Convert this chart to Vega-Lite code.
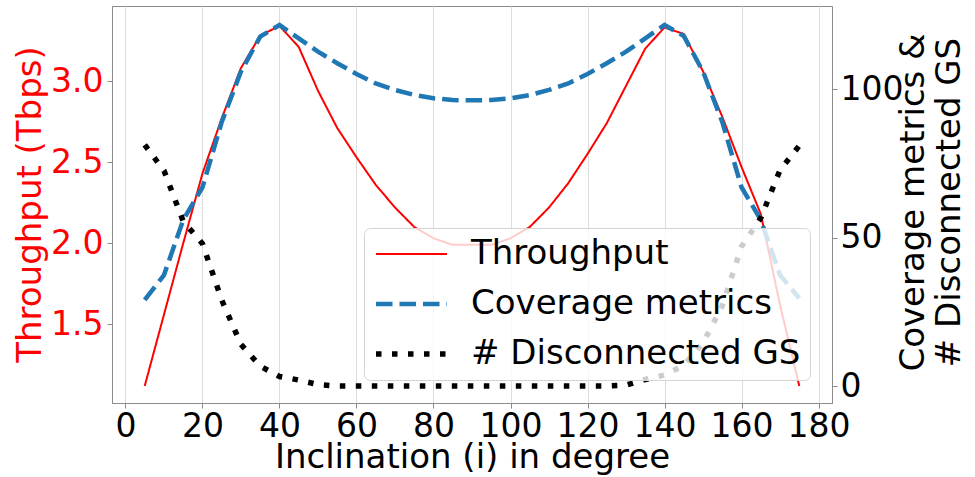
{
  "$schema": "https://vega.github.io/schema/vega-lite/v6.json",
  "autosize": {"type": "none"},
  "width": 720,
  "height": 397,
  "padding": {"left": 112, "top": 6, "right": 143, "bottom": 74},
  "background": "white",
  "data": {
    "values": [
      {"incl": 5, "Throughput": 1.12, "Coverage metrics": 29.0, "# Disconnected GS": 81.3},
      {"incl": 10, "Throughput": 1.56, "Coverage metrics": 37.4, "# Disconnected GS": 72.6},
      {"incl": 15, "Throughput": 2.0, "Coverage metrics": 56.0, "# Disconnected GS": 55.5},
      {"incl": 20, "Throughput": 2.43, "Coverage metrics": 67.0, "# Disconnected GS": 48.0},
      {"incl": 25, "Throughput": 2.77, "Coverage metrics": 89.0, "# Disconnected GS": 29.0},
      {"incl": 30, "Throughput": 3.08, "Coverage metrics": 106.0, "# Disconnected GS": 14.0},
      {"incl": 35, "Throughput": 3.28, "Coverage metrics": 117.8, "# Disconnected GS": 6.7},
      {"incl": 40, "Throughput": 3.34, "Coverage metrics": 121.7, "# Disconnected GS": 3.2},
      {"incl": 45, "Throughput": 3.21, "Coverage metrics": 117.2, "# Disconnected GS": 2.0},
      {"incl": 50, "Throughput": 2.94, "Coverage metrics": 112.7, "# Disconnected GS": 0.5},
      {"incl": 55, "Throughput": 2.71, "Coverage metrics": 108.8, "# Disconnected GS": 0},
      {"incl": 60, "Throughput": 2.53, "Coverage metrics": 105.2, "# Disconnected GS": 0},
      {"incl": 65, "Throughput": 2.36, "Coverage metrics": 102.0, "# Disconnected GS": 0},
      {"incl": 70, "Throughput": 2.22, "Coverage metrics": 99.8, "# Disconnected GS": 0},
      {"incl": 75, "Throughput": 2.1, "Coverage metrics": 98.1, "# Disconnected GS": 0},
      {"incl": 80, "Throughput": 2.03, "Coverage metrics": 97.0, "# Disconnected GS": 0},
      {"incl": 85, "Throughput": 1.99, "Coverage metrics": 96.4, "# Disconnected GS": 0},
      {"incl": 90, "Throughput": 1.99, "Coverage metrics": 96.3, "# Disconnected GS": 0},
      {"incl": 95, "Throughput": 1.99, "Coverage metrics": 96.4, "# Disconnected GS": 0},
      {"incl": 100, "Throughput": 2.03, "Coverage metrics": 97.0, "# Disconnected GS": 0},
      {"incl": 105, "Throughput": 2.1, "Coverage metrics": 98.1, "# Disconnected GS": 0},
      {"incl": 110, "Throughput": 2.22, "Coverage metrics": 99.8, "# Disconnected GS": 0},
      {"incl": 115, "Throughput": 2.37, "Coverage metrics": 102.0, "# Disconnected GS": 0},
      {"incl": 120, "Throughput": 2.55, "Coverage metrics": 105.2, "# Disconnected GS": 0},
      {"incl": 125, "Throughput": 2.74, "Coverage metrics": 108.8, "# Disconnected GS": 0},
      {"incl": 130, "Throughput": 2.97, "Coverage metrics": 112.7, "# Disconnected GS": 0.3},
      {"incl": 135, "Throughput": 3.2, "Coverage metrics": 117.2, "# Disconnected GS": 2.2},
      {"incl": 140, "Throughput": 3.33, "Coverage metrics": 121.7, "# Disconnected GS": 3.7},
      {"incl": 145, "Throughput": 3.29, "Coverage metrics": 118.0, "# Disconnected GS": 7.0},
      {"incl": 150, "Throughput": 3.06, "Coverage metrics": 106.0, "# Disconnected GS": 14.5},
      {"incl": 155, "Throughput": 2.78, "Coverage metrics": 89.0, "# Disconnected GS": 27.0},
      {"incl": 160, "Throughput": 2.47, "Coverage metrics": 67.0, "# Disconnected GS": 47.0},
      {"incl": 165, "Throughput": 2.18, "Coverage metrics": 56.0, "# Disconnected GS": 56.6},
      {"incl": 170, "Throughput": 1.62, "Coverage metrics": 37.4, "# Disconnected GS": 72.8},
      {"incl": 175, "Throughput": 1.12, "Coverage metrics": 29.6, "# Disconnected GS": 81.0}
    ]
  },
  "encoding": {
    "x": {
      "field": "incl",
      "type": "quantitative",
      "scale": {"domain": [-3.5, 183.5], "nice": false, "zero": false},
      "axis": {
        "values": [0, 20, 40, 60, 80, 100, 120, 140, 160, 180],
        "format": "d",
        "grid": true,
        "gridColor": "#dddddd",
        "gridWidth": 1,
        "tickSize": 5,
        "labelPadding": 2,
        "title": "Inclination (i) in degree",
        "titlePadding": -3
      }
    },
    "color": {
      "field": "series",
      "type": "nominal",
      "scale": {
        "domain": ["Throughput", "Coverage metrics", "# Disconnected GS"],
        "range": ["#ff0000", "#1f77b4", "#000000"]
      },
      "legend": {"title": null, "orient": "none", "legendX": 252, "legendY": 222}
    },
    "strokeDash": {
      "field": "series",
      "type": "nominal",
      "scale": {
        "domain": ["Throughput", "Coverage metrics", "# Disconnected GS"],
        "range": [[1, 0], [16.5, 7], [5.5, 10.5]]
      },
      "legend": {"title": null, "orient": "none", "legendX": 252, "legendY": 222}
    },
    "strokeWidth": {
      "field": "series",
      "type": "nominal",
      "scale": {
        "type": "ordinal",
        "domain": ["Throughput", "Coverage metrics", "# Disconnected GS"],
        "range": [2, 4.5, 5.5]
      },
      "legend": {"title": null, "orient": "none", "legendX": 252, "legendY": 222}
    }
  },
  "layer": [
    {
      "transform": [{"fold": ["Throughput"], "as": ["series", "value"]}],
      "mark": {"type": "line", "strokeCap": "butt"},
      "encoding": {
        "y": {
          "field": "value",
          "type": "quantitative",
          "scale": {"domain": [1.0148, 3.4624], "nice": false, "zero": false},
          "axis": {
            "orient": "left",
            "values": [1.5, 2.0, 2.5, 3.0],
            "format": ".1f",
            "tickSize": 5,
            "labelPadding": 4,
            "labelColor": "#ff0000",
            "titleColor": "#ff0000",
            "title": "Throughput (Tbps)",
            "titleAngle": 270,
            "titleAlign": "center",
            "titleBaseline": "middle",
            "titleX": -82,
            "titleY": 198
          }
        }
      }
    },
    {
      "transform": [{"fold": ["Coverage metrics", "# Disconnected GS"], "as": ["series", "value"]}],
      "mark": {"type": "line", "strokeCap": "butt"},
      "encoding": {
        "y": {
          "field": "value",
          "type": "quantitative",
          "scale": {"domain": [-5.73, 128.1], "nice": false, "zero": false},
          "axis": {
            "orient": "right",
            "values": [0, 50, 100],
            "format": "d",
            "tickSize": 5,
            "labelPadding": 3,
            "title": ["Coverage metrics &", "# Disconnected GS"],
            "titleAngle": 270,
            "titleAlign": "center",
            "titleBaseline": "middle",
            "titleLineHeight": 36,
            "titleX": 81,
            "titleY": 196
          }
        }
      }
    }
  ],
  "resolve": {"scale": {"y": "independent"}, "axis": {"y": "independent"}},
  "config": {
    "font": "DejaVu Sans",
    "view": {"stroke": "#8c8c8c", "strokeWidth": 1},
    "axis": {
      "labelFont": "DejaVu Sans",
      "titleFont": "DejaVu Sans",
      "labelFontSize": 33,
      "titleFontSize": 34,
      "titleFontWeight": "normal",
      "labelColor": "#000000",
      "titleColor": "#000000",
      "domainColor": "#8c8c8c",
      "tickColor": "#8c8c8c",
      "grid": false,
      "labelOverlap": false,
      "labelFlush": false
    },
    "legend": {
      "labelFont": "DejaVu Sans",
      "labelFontSize": 34,
      "labelColor": "#000000",
      "labelLimit": 0,
      "symbolType": "M-1,0H1",
      "symbolSize": 5041,
      "clipHeight": 34,
      "rowPadding": 16,
      "padding": 9,
      "labelOffset": 21,
      "fillColor": "rgba(255,255,255,0.8)",
      "strokeColor": "#d4d4d4",
      "cornerRadius": 6
    }
  }
}
